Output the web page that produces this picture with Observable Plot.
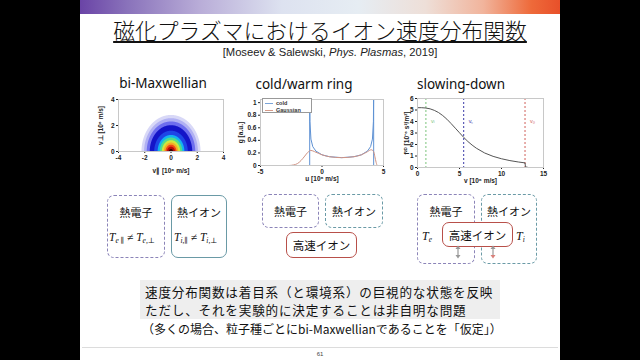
<!DOCTYPE html>
<html><head><meta charset="utf-8">
<script src="https://cdn.jsdelivr.net/npm/d3@7"></script>
<script src="https://cdn.jsdelivr.net/npm/@observablehq/plot@0.6"></script>
<style>
html,body{margin:0;padding:0;background:#000;width:640px;height:360px;overflow:hidden;}
.a{position:absolute;}
#slide{left:80px;top:0;width:480px;height:360px;background:#fff;}
#bar{left:80px;top:0;width:480px;height:14px;background:linear-gradient(to right,#6a44a6 0%,#8a73bb 10%,#b9add8 25%,#dde2f0 42%,#e6edf3 58%,#eedfd8 72%,#f1b49c 84%,#ee6a3a 94%,#e8502a 100%);}
.jp{font-family:"Noto Sans CJK JP","Noto Sans",sans-serif;color:#111;}
#title{left:80px;width:480px;top:14px;text-align:center;font-size:21.8px;line-height:31px;font-weight:300;text-decoration:underline;text-decoration-thickness:1.5px;text-underline-offset:2px;}
#cite{left:80px;width:500px;top:45.5px;text-align:center;font-family:"Liberation Sans",Arial,sans-serif;font-size:11.2px;line-height:13px;color:#222;}
.ptitle{font-family:"Noto Sans","Liberation Sans",sans-serif;font-size:13.5px;color:#111;text-align:center;width:140px;line-height:16px;}
.box{box-sizing:border-box;border-radius:7px;}
.dp{border:1.4px dashed #8b84b8;}
.dt{border:1.4px dashed #6a9aa6;}
.st{border:1.5px solid #6a9aa6;}
.sr{border:1.6px solid #b8504a;background:#fff;}
.lbl{font-size:11px;text-align:center;line-height:14px;}
.math{font-family:"Liberation Serif","DejaVu Serif",serif;font-style:italic;font-size:11.5px;color:#111;white-space:nowrap;line-height:14px;}
.math sub{font-size:7.5px;vertical-align:-2px;}
#gray{left:140px;top:280px;width:360px;height:39px;background:#eeeeee;}
.body{font-size:12.6px;letter-spacing:0.8px;line-height:18.2px;white-space:nowrap;}
#legend{left:262px;top:98px;width:50px;height:15px;border:0.8px solid #999;background:#fff;box-sizing:border-box;font-family:"Liberation Sans",Arial,sans-serif;font-weight:bold;font-size:5.5px;line-height:6.5px;color:#333;}
</style></head>
<body>
<div id="slide" class="a"></div>
<div id="bar" class="a"></div>
<div id="title" class="a jp">磁化プラズマにおけるイオン速度分布関数</div>
<div id="cite" class="a">[Moseev &amp; Salewski, <i>Phys. Plasmas</i>, 2019]</div>

<div class="a ptitle" style="left:93px;top:75px;">bi-Maxwellian</div>
<div class="a ptitle" style="left:234px;top:76px;">cold/warm ring</div>
<div class="a ptitle" style="left:391px;top:76px;">slowing-down</div>

<div id="p1" class="a" style="left:90px;top:90px;"></div>
<div id="p2" class="a" style="left:228px;top:89px;"></div>
<div id="p3" class="a" style="left:390px;top:88px;"></div>

<div id="legend" class="a">
  <div style="position:absolute;left:2px;top:1px;"><span style="display:inline-block;width:8px;height:0;border-top:1px solid #7aa4d8;vertical-align:middle;margin-right:3px;"></span>cold</div>
  <div style="position:absolute;left:2px;top:7.5px;"><span style="display:inline-block;width:8px;height:0;border-top:1px solid #d69a88;vertical-align:middle;margin-right:3px;"></span>Gaussian</div>
</div>

<!-- boxes -->
<div class="a box dp" style="left:107px;top:195px;width:58px;height:63px;"></div>
<div class="a box st" style="left:171px;top:195px;width:56px;height:63px;"></div>
<div class="a jp lbl" style="left:107px;top:205px;width:58px;">熱電子</div>
<div class="a jp lbl" style="left:171px;top:205px;width:56px;">熱イオン</div>
<div class="a math" style="left:109px;top:230px;">T<sub>e ∥</sub> ≠ T<sub>e,⊥</sub></div>
<div class="a math" style="left:174px;top:230px;">T<sub>i,∥</sub> ≠ T<sub>i,⊥</sub></div>

<div class="a box dp" style="left:262px;top:194px;width:57px;height:34px;"></div>
<div class="a box dt" style="left:325px;top:194px;width:58px;height:34px;"></div>
<div class="a jp lbl" style="left:262px;top:204px;width:57px;">熱電子</div>
<div class="a jp lbl" style="left:325px;top:204px;width:58px;">熱イオン</div>
<div class="a box sr" style="left:286px;top:232px;width:71px;height:26px;"></div>
<div class="a jp lbl" style="left:286px;top:238px;width:71px;font-size:11.5px;">高速イオン</div>

<div class="a box dp" style="left:417px;top:194px;width:58px;height:70px;"></div>
<div class="a box dt" style="left:481px;top:194px;width:56px;height:70px;"></div>
<div class="a jp lbl" style="left:417px;top:204px;width:58px;">熱電子</div>
<div class="a jp lbl" style="left:481px;top:204px;width:56px;">熱イオン</div>
<div class="a math" style="left:422px;top:229px;font-size:12px;">T<sub>e</sub></div>
<div class="a math" style="left:516px;top:229px;font-size:12px;">T<sub>i</sub></div>
<div class="a box sr" style="left:442px;top:222px;width:71px;height:25px;"></div>
<div class="a jp lbl" style="left:442px;top:228px;width:71px;font-size:11.5px;">高速イオン</div>
<svg class="a" style="left:450px;top:245px;" width="50" height="14">
  <g stroke="#999" stroke-width="1.2" fill="#999">
    <line x1="8" y1="3" x2="8" y2="11"/><path d="M5.5,4 L8,0.5 L10.5,4Z" stroke="none"/><path d="M5.5,10 L8,13.5 L10.5,10Z" stroke="none"/>
    <line x1="43" y1="3" x2="43" y2="11"/><path d="M40.5,4 L43,0.5 L45.5,4Z" stroke="none"/><path d="M40.5,10 L43,13.5 L45.5,10Z" stroke="none" fill="#d9807a"/>
  </g>
</svg>

<div id="gray" class="a"></div>
<div class="a jp body" style="left:145px;top:283.3px;">速度分布関数は着目系（と環境系）の巨視的な状態を反映</div>
<div class="a jp body" style="left:145px;top:301.3px;">ただし、それを実験的に決定することは非自明な問題</div>
<div class="a jp" style="left:142px;top:321.6px;font-size:12px;line-height:14px;white-space:nowrap;">（多くの場合、粒子種ごとにbi-Maxwellianであることを「仮定」）</div>
<div class="a" style="left:82px;top:347px;width:476px;height:1px;background:#dcdcdc;"></div>
<div class="a" style="left:300px;top:351px;width:40px;text-align:center;font-family:'Liberation Sans',Arial;font-size:6px;color:#444;">61</div>

<script>
// ---------- data ----------
// bi-Maxwellian: filled contour levels, given as the v_par half-width of each level (10^6 m/s)
const bmLevels = [2.25, 2.05, 1.85, 1.62, 1.28, 1.02, 0.86, 0.7, 0.55, 0.42, 0.3, 0.16];
const bmAspect = 1.25; // v_perp extent / v_par extent of each contour
const bmColors = ["#d8d8f7","#b0b0f3","#6e6eee","#1414c8","#1e46e6","#14b4f0","#50dc8c","#d2e63c","#f5aa28","#f04614","#b40a0a","#3c0000"];
const bmTicksX = [-4, -2, 0, 2, 4];
const bmTicksY = [0, 2, 4];

// cold / warm ring: g(u)
const coldU = [-5, -1.0, -1.0, -0.98, -0.9, -0.75, -0.5, 0, 0.6, 1.6, 2.6, 3.2, 3.7, 3.95, 4.1, 4.18, 4.2, 4.2, 5];
const coldG = [0, 0, 1.2, 0.7, 0.42, 0.3, 0.23, 0.17, 0.14, 0.125, 0.14, 0.17, 0.23, 0.3, 0.42, 0.7, 1.2, 0, 0];
const gaussU = [-5, -2.7, -2.3, -2.0, -1.7, -1.4, -1.15, -0.9, -0.6, 0, 0.6, 1.6, 2.6, 3.2, 3.7, 4.0, 4.2, 4.3, 4.4, 4.5, 5];
const gaussG = [0, 0, 0.01, 0.03, 0.08, 0.15, 0.21, 0.24, 0.22, 0.17, 0.14, 0.125, 0.14, 0.17, 0.22, 0.25, 0.22, 0.14, 0.05, 0, 0];
const ringTicksX = [-5, 0, 5];
const ringTicksY = [0, 0.2, 0.4, 0.6, 0.8, 1];

// slowing-down: f(v)
const sdV = [0, 0.5, 1, 1.5, 2, 2.5, 3, 3.5, 4, 4.5, 5, 5.5, 6, 6.5, 7, 8, 9, 10, 11, 12, 12.8, 12.85, 13.2, 14];
const sdF = [5.2, 5.2, 5.17, 5.1, 4.97, 4.78, 4.52, 4.2, 3.82, 3.42, 3.02, 2.62, 2.26, 1.95, 1.68, 1.26, 0.97, 0.76, 0.6, 0.48, 0.4, 0.06, 0, 0];
const sdMarkV = [1.0, 5.5, 12.8];
const sdMarkName = ["vᵢ", "v꜀", "v₀"];
const sdMarkColor = ["#7cc47c", "#3a3aa8", "#d0605a"];
const sdMarkLabelY = [4.05, 4.05, 4.05];
const sdTicksX = [0, 5, 10, 15];
const sdTicksY = [0, 1, 2, 3, 4, 5, 6];

// ---------- charts ----------
const fmt = d => `${d}`;
const axStyle = {fontSize: "6.5px", fontFamily: "'Liberation Sans', Arial, sans-serif", fontWeight: "bold", color: "#222", background: "transparent", overflow: "visible"};

const bmThresholds = bmLevels.map(d => -d);
const p1 = Plot.plot({
  width: 140, height: 95, marginLeft: 28, marginRight: 7, marginTop: 9, marginBottom: 34,
  style: axStyle,
  x: {domain: [-4, 4], ticks: bmTicksX, tickFormat: fmt, tickSize: 2, tickPadding: 2, label: "v∥ [10⁶ m/s]", labelAnchor: "center", labelOffset: 21, labelArrow: false},
  y: {domain: [0, 4], ticks: bmTicksY, tickFormat: fmt, tickSize: 2, tickPadding: 2, label: "v⊥ [10⁶ m/s]", labelAnchor: "center", labelOffset: 20, labelArrow: false},
  color: {type: "ordinal", domain: bmThresholds, range: bmColors},
  marks: [
    Plot.contour({x1: -4, x2: 4, y1: 0, y2: 4, value: (x, y) => -Math.hypot(x, y / bmAspect), thresholds: bmThresholds, fill: "value", stroke: "none", pixelSize: 0.5}),
    Plot.frame({stroke: "#c8c8c8"})
  ]
});
document.getElementById("p1").append(p1);

const coldData = coldU.map((u, i) => ({u, g: coldG[i]}));
const gaussData = gaussU.map((u, i) => ({u, g: gaussG[i]}));
const p2 = Plot.plot({
  width: 162, height: 94, marginLeft: 32, marginRight: 7, marginTop: 10, marginBottom: 18,
  style: axStyle,
  x: {domain: [-5, 5], ticks: ringTicksX, tickFormat: fmt, tickSize: 2, tickPadding: 2, label: "u [10⁶ m/s]", labelAnchor: "center", labelOffset: 15, labelArrow: false},
  y: {domain: [0, 1.05], ticks: ringTicksY, tickFormat: fmt, tickSize: 2, tickPadding: 2, label: "g [a.u.]", labelAnchor: "center", labelOffset: 22, labelArrow: false},
  marks: [
    Plot.line(coldData, {x: "u", y: "g", stroke: "#5f92d4", strokeWidth: 1, clip: true}),
    Plot.line(gaussData, {x: "u", y: "g", stroke: "#cf9384", strokeWidth: 1, curve: "monotone-x", clip: true}),
    Plot.frame({stroke: "#c8c8c8"})
  ]
});
document.getElementById("p2").append(p2);

const sdData = sdV.map((v, i) => ({v, f: sdF[i]}));
const sdMarks = sdMarkV.map((v, i) => ({v, name: sdMarkName[i], color: sdMarkColor[i], y: sdMarkLabelY[i]}));
const p3 = Plot.plot({
  width: 160, height: 97, marginLeft: 27, marginRight: 7, marginTop: 10, marginBottom: 18,
  style: axStyle,
  x: {domain: [0, 15], ticks: sdTicksX, tickFormat: fmt, tickSize: 2, tickPadding: 2, label: "v [10⁶ m/s]", labelAnchor: "center", labelOffset: 15, labelArrow: false},
  y: {domain: [0, 6], ticks: sdTicksY, tickFormat: fmt, tickSize: 2, tickPadding: 2, label: "f²ᴰ [10⁻⁶ s²/m²]", labelAnchor: "center", labelOffset: 13, labelArrow: false},
  marks: [
    Plot.ruleX(sdMarks, {x: "v", stroke: "color", strokeDasharray: "2,2", strokeWidth: 1}),
    Plot.text(sdMarks, {x: "v", y: "y", text: "name", fill: "color", dx: 5, textAnchor: "start", fontSize: 5.5, fontWeight: "normal"}),
    Plot.line(sdData, {x: "v", y: "f", stroke: "#555", strokeWidth: 1}),
    Plot.frame({stroke: "#c8c8c8"})
  ]
});
document.getElementById("p3").append(p3);
</script>
</body></html>
